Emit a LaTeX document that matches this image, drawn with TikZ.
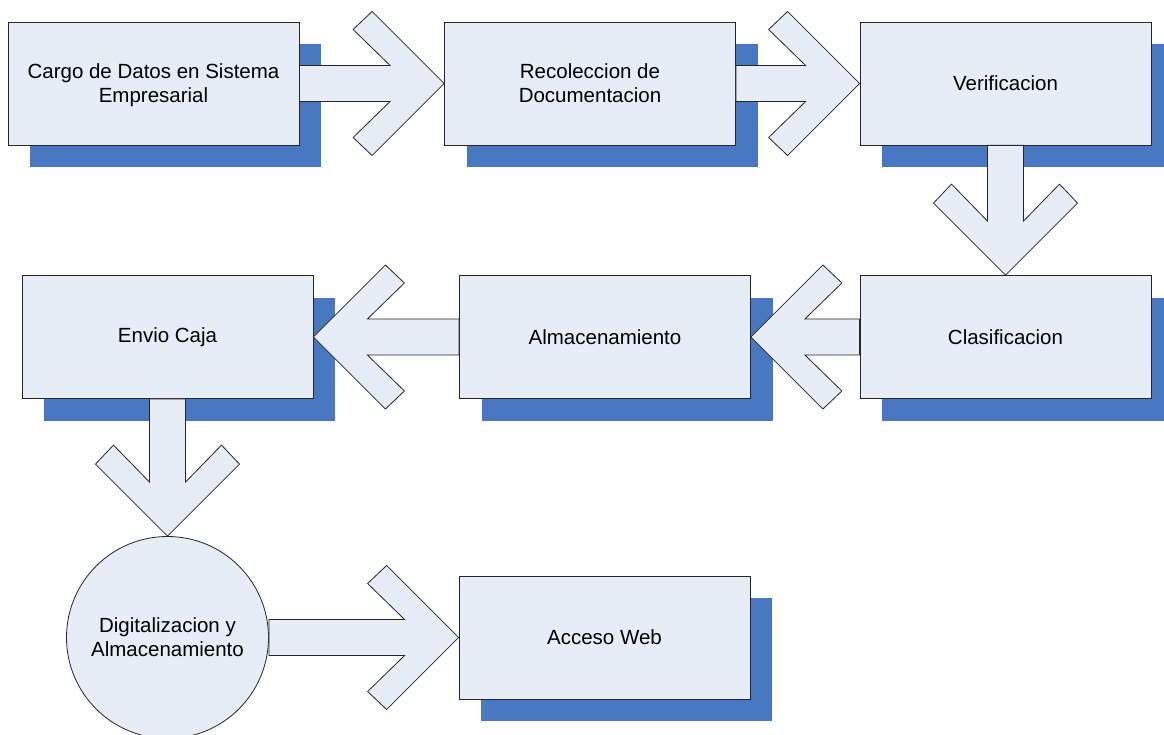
\documentclass[tikz,border=0pt]{standalone}
\usepackage{fontspec}
\setmainfont{Liberation Sans}
\usetikzlibrary{calc,shadows}

\definecolor{boxfill}{HTML}{E7EDF7}
\definecolor{shadowblue}{HTML}{4878C2}
\definecolor{edge}{HTML}{262626}

\tikzset{
  procbox/.style={draw=edge, line width=0.8pt, fill=boxfill,
    minimum width=291pt, minimum height=123pt, inner sep=0pt,
    align=center, font=\fontsize{20.5}{24}\selectfont,
    drop shadow={shadow xshift=22pt, shadow yshift=-22pt, opacity=1, fill=shadowblue, draw=none}},
  procdisc/.style={draw=edge, line width=0.8pt, fill=boxfill, circle,
    minimum size=202pt, inner sep=0pt, align=center,
    font=\fontsize{20.5}{24}\selectfont},
  blockarrow/.style={draw=edge, line width=0.8pt, fill=boxfill, line join=miter}
}

% Wide hollow arrow from #1 (tail) to #2 (tip)
\newcommand\flowarrow[2]{%
  \draw[blockarrow] (#2)
    -- ($(#2)!72pt!(#1)!72pt!90:(#2)$)
    -- ($(#2)!91pt!(#1)!54pt!90:(#2)$)
    -- ($(#2)!54pt!(#1)!18pt!90:(#2)$)
    -- ($(#1)!18pt!90:(#2)$)
    -- ($(#1)!18pt!-90:(#2)$)
    -- ($(#2)!54pt!(#1)!18pt!-90:(#2)$)
    -- ($(#2)!91pt!(#1)!54pt!-90:(#2)$)
    -- ($(#2)!72pt!(#1)!72pt!-90:(#2)$)
    -- cycle;}

\begin{document}
\begin{tikzpicture}[x=1pt, y=-1pt]
  \useasboundingbox (0,0) rectangle (1164,735);

  % first row
  \node[procbox, text depth=0pt] (carga) at (153.5,83.5) {Cargo de Datos en Sistema\\Empresarial};
  \node[procbox] (recol)  at (590,83.5)   {Recoleccion de\\Documentacion};
  \node[procbox] (verif)  at (1005.5,83.5) {Verificacion};

  % second row
  \node[procbox] (envio)  at (167.5,337)  {Envio Caja};
  \node[procbox] (almac)  at (605,337)    {Almacenamiento};
  \node[procbox] (clasif) at (1005.5,337) {Clasificacion};

  % third row
  \node[procdisc] (digit) at (167.5,637.5) {Digitalizacion y\\Almacenamiento};
  \node[procbox] (web)    at (604.5,637.5) {Acceso Web};

  % flow
  \flowarrow{carga.east}{recol.west}
  \flowarrow{recol.east}{verif.west}
  \flowarrow{verif.south}{clasif.north}
  \flowarrow{clasif.west}{almac.east}
  \flowarrow{almac.west}{envio.east}
  \flowarrow{envio.south}{digit.north}
  \flowarrow{digit.east}{web.west}
\end{tikzpicture}
\end{document}
